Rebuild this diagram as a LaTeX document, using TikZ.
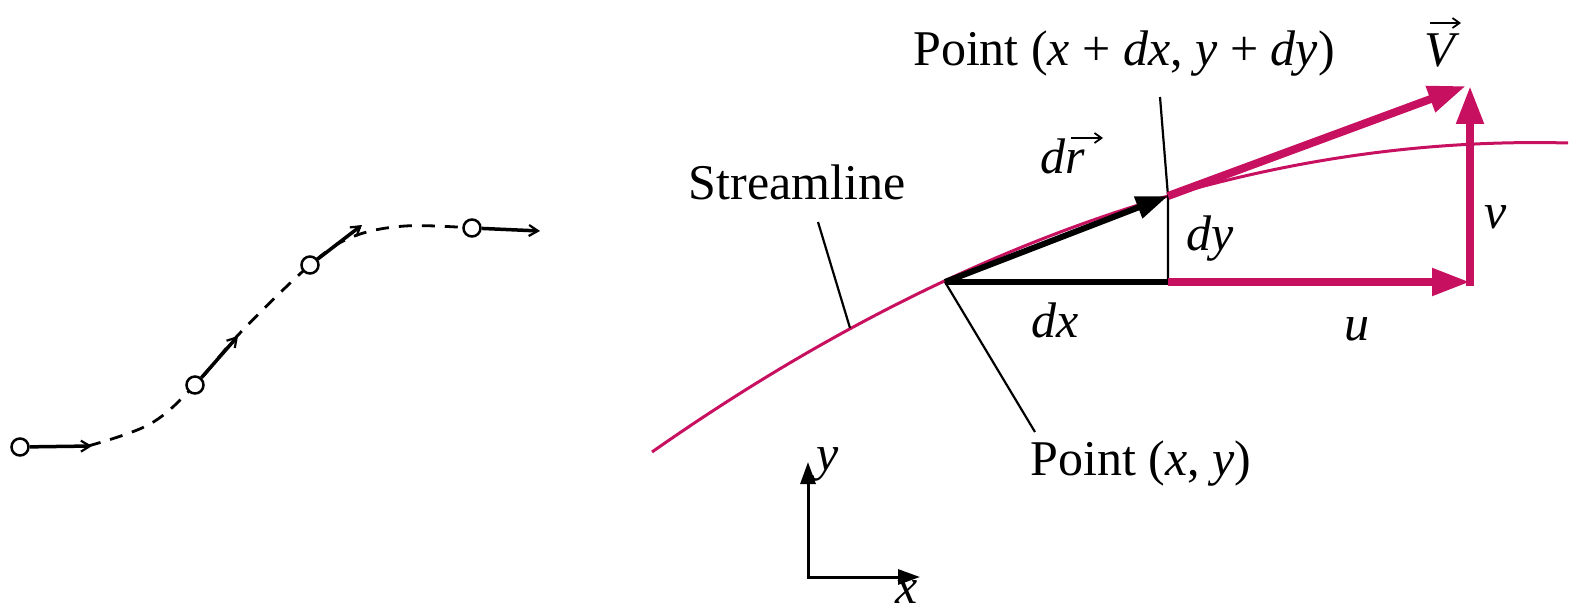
\documentclass[tikz,border=0pt]{standalone}
\usepackage{fontspec}
\setmainfont{Liberation Serif}
\usetikzlibrary{arrows.meta}
\definecolor{strpink}{RGB}{200,16,96}
\begin{document}
\begin{tikzpicture}[x=1pt,y=-1pt,
  lbl/.style={font=\fontsize{50}{60}\selectfont, inner sep=0pt},
  leader/.style={line width=2.2pt, black},
  pinkarrow/.style={line width=8pt, strpink, -{Triangle[length=38pt,width=26pt]}},
  blackarrow/.style={line width=6pt, black, -{Triangle[length=32pt,width=22pt]}},
  axisarrow/.style={line width=3pt, black, -{Triangle[length=22pt,width=15pt]}},
  vecarrow/.style={line width=2pt, black, -{Straight Barb[length=7pt,width=10pt,line width=1.8pt]}},
  dot/.style={circle, draw, fill=white, line width=2.5pt, minimum size=17pt, inner sep=0pt},
  smallarr/.style={line width=3.5pt, -{Straight Barb[length=9pt,width=11pt,line width=2.2pt]}},
  dashcurve/.style={line width=2.8pt, dash pattern=on 13pt off 10pt}]
\useasboundingbox (0,0) rectangle (1571,615);

% ---------- left: streamline with tangent velocity arrows ----------
\draw[dashcurve] plot[smooth, tension=0.6] coordinates
  {(88,446) (150,424) (195,385) (240,333) (310,265) (352,237) (405,226) (472,228)};
\node[dot] (A) at (20,447) {};
\node[dot] (B) at (195,385) {};
\node[dot] (C) at (310,265) {};
\node[dot] (D) at (472,228) {};
\coordinate (Ae) at (92,446);
\coordinate (Be) at (238,336);
\coordinate (Ce) at (362,225);
\coordinate (De) at (540,231);
\draw[smallarr] (A) -- (Ae);
\draw[smallarr] (B) -- (Be);
\draw[smallarr] (C) -- (Ce);
\draw[smallarr] (D) -- (De);

% ---------- right: streamline element ----------
\coordinate (S0) at (652,452);
\coordinate (S1) at (1568,143);
\coordinate (P) at (945,282);
\coordinate (Q) at (1168,196);
\coordinate (R) at (1168,282);
\coordinate (U) at (1470,282);
\coordinate (Ub) at (1470,286);
\coordinate (T) at (1470,86);
\coordinate (Vt) at (1466,86);

\draw[strpink, line width=3pt] (S0) .. controls (957.3,238) and (1262.7,135) .. (S1);

% dy line and leader up to upper label
\coordinate (Ltop) at (1160,97);
\draw[leader] (R) -- (Q) -- (Ltop);

% dx and dr
\draw[line width=6pt, black] (P) -- (R);
\draw[blackarrow] (P) -- (Q);

% velocity components
\draw[pinkarrow] (R) -- (U);
\draw[pinkarrow] (Ub) -- (T);
\draw[pinkarrow] (Q) -- (Vt);

% leaders
\coordinate (Sl1) at (818,222);
\coordinate (Sl2) at (850,328);
\draw[leader] (Sl1) -- (Sl2);
\coordinate (Pl) at (1035,432);
\draw[leader] (P) -- (Pl);

% labels
\node[lbl, anchor=base] (lstream) at (797,199) {Streamline};
\node[lbl, anchor=base] (ltop) at (1124,66) {Point (\textit{x} + \textit{dx}, \textit{y} + \textit{dy})};
\node[lbl, anchor=base] (lbot) at (1141,475) {Point (\textit{x}, \textit{y})};
\node[lbl, anchor=base west] (ldr) at (1040,173) {\textit{dr}};
\draw[vecarrow] (1071,138) -- (1103,138);
\node[lbl, anchor=base] (ldy) at (1210,250) {\textit{dy}};
\node[lbl, anchor=base] (ldx) at (1055,337) {\textit{dx}};
\node[lbl, anchor=base] (lu) at (1357,340) {\textit{u}};
\node[lbl, anchor=base] (lv) at (1496,228) {\textit{v}};
\node[lbl, anchor=base] (lV) at (1442,67) {\textit{V}};
\draw[vecarrow] (1430,23) -- (1461,23);

% axes
\coordinate (O) at (808,577);
\coordinate (Yt) at (808,462);
\coordinate (Xt) at (920,577);
\draw[axisarrow] (O) -- (Yt);
\draw[axisarrow] ([xshift=-1.5pt]O) -- (Xt);
\node[lbl, anchor=base] (ly) at (828,470) {\textit{y}};
\node[lbl, anchor=base] (lx) at (907,603) {\textit{x}};
\end{tikzpicture}
\end{document}
